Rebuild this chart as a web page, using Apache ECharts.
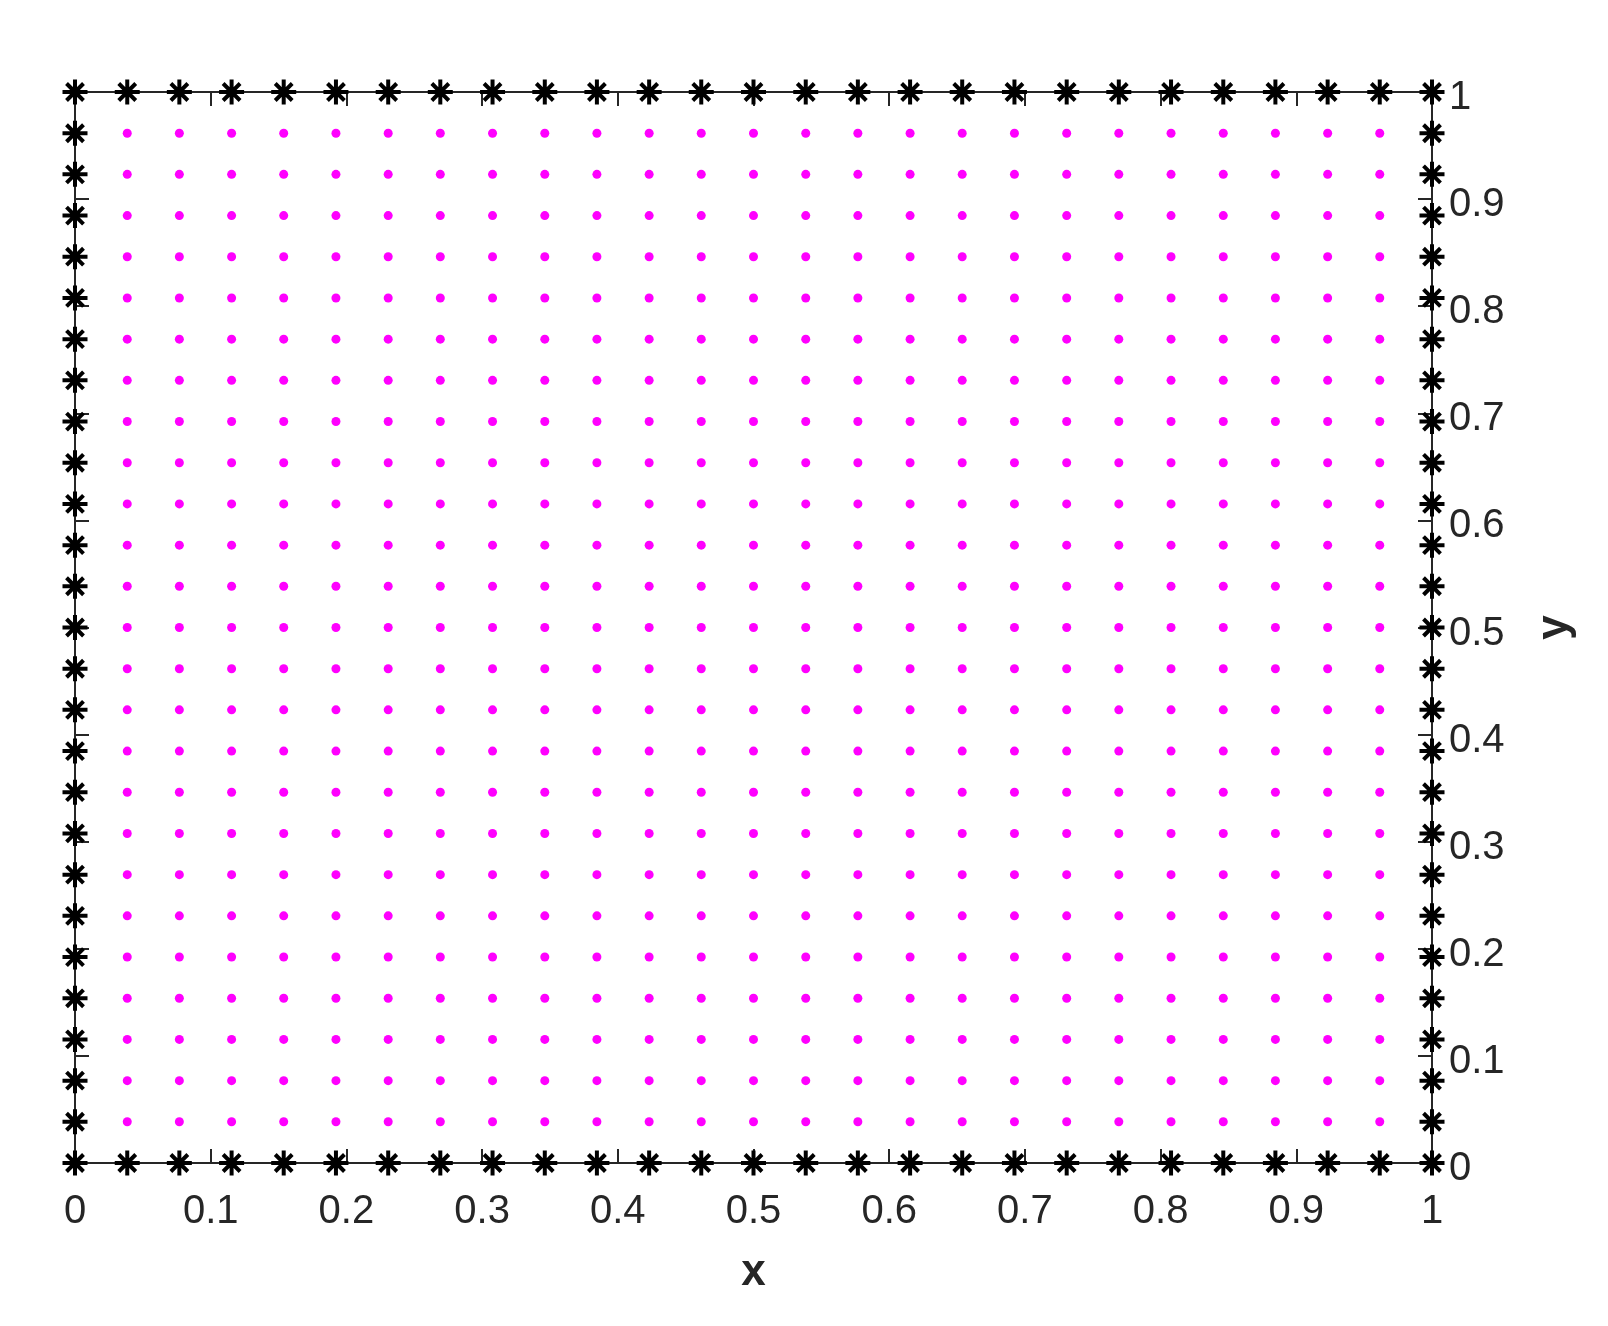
<!DOCTYPE html>
<html>
<head>
<meta charset="utf-8">
<script src="https://cdn.jsdelivr.net/npm/echarts@6/dist/echarts.min.js"></script>
<style>
html,body{margin:0;padding:0;background:#fff;}
#main{width:1608px;height:1326px;}
</style>
</head>
<body>
<div id="main"></div>
<script>
// grid node coordinates (27 nodes per direction)
const nodes = [0, 0.0385, 0.0769, 0.1154, 0.1538, 0.1923, 0.2308, 0.2692, 0.3077, 0.3462,
  0.3846, 0.4231, 0.4615, 0.5, 0.5385, 0.5769, 0.6154, 0.6538, 0.6923, 0.7308,
  0.7692, 0.8077, 0.8462, 0.8846, 0.9231, 0.9615, 1];
const xTicks = [0, 0.1, 0.2, 0.3, 0.4, 0.5, 0.6, 0.7, 0.8, 0.9, 1];
const yTicks = [0, 0.1, 0.2, 0.3, 0.4, 0.5, 0.6, 0.7, 0.8, 0.9, 1];
const xTitle = 'x';
const yTitle = 'y';

const boundary = [];
const interior = [];
const n = nodes.length;
for (let i = 0; i < n; i++) {
  for (let j = 0; j < n; j++) {
    const p = [nodes[i], nodes[j]];
    if (i === 0 || j === 0 || i === n - 1 || j === n - 1) boundary.push(p);
    else interior.push(p);
  }
}

const star = 'path://M-12.5 -2 L12.5 -2 L12.5 2 L-12.5 2 Z ' +
  'M-2 -12.5 L2 -12.5 L2 12.5 L-2 12.5 Z ' +
  'M-7.08 -9.9 L9.9 7.08 L7.08 9.9 L-9.9 -7.08 Z ' +
  'M-9.9 7.08 L7.08 -9.9 L9.9 -7.08 L-7.08 9.9 Z';

const fontFam = '"Liberation Sans", Arial, Helvetica, sans-serif';
const axisColor = '#262626';

function fmt(v) {
  return String(Math.round(v * 10) / 10);
}

const chart = echarts.init(document.getElementById('main'), null, {renderer: 'canvas'});
const common = {
  type: 'value', min: 0, max: 1, interval: 0.1,
  splitLine: {show: false},
  axisLine: {show: true, onZero: false, lineStyle: {color: axisColor, width: 2}},
  axisTick: {show: true, inside: true, length: 14, lineStyle: {color: axisColor, width: 2}}
};
chart.setOption({
  backgroundColor: '#ffffff',
  animation: false,
  grid: {left: 75, right: 176, top: 92, bottom: 163, containLabel: false},
  xAxis: [
    Object.assign({}, common, {
      position: 'bottom',
      name: xTitle, nameLocation: 'middle', nameGap: 88,
      nameTextStyle: {fontFamily: fontFam, fontSize: 44, fontWeight: 'bold', color: axisColor},
      axisLabel: {show: true, margin: 29, fontFamily: fontFam, fontSize: 40, color: axisColor,
        formatter: v => xTicks.some(t => Math.abs(t - v) < 1e-6) ? fmt(v) : ''}
    }),
    Object.assign({}, common, {position: 'top', axisLabel: {show: false}})
  ],
  yAxis: [
    Object.assign({}, common, {
      position: 'right',
      name: yTitle, nameLocation: 'middle', nameGap: 101, nameRotate: 90,
      nameTextStyle: {fontFamily: fontFam, fontSize: 44, fontWeight: 'bold', color: axisColor},
      axisLabel: {show: true, margin: 17, verticalAlign: 'top', lineHeight: 12,
        fontFamily: fontFam, fontSize: 40, color: axisColor,
        formatter: v => yTicks.some(t => Math.abs(t - v) < 1e-6) ? fmt(v) : ''}
    }),
    Object.assign({}, common, {position: 'left', axisLabel: {show: false}})
  ],
  series: [
    {
      type: 'scatter', xAxisIndex: 0, yAxisIndex: 0, clip: false,
      data: interior, symbol: 'circle', symbolSize: 9,
      itemStyle: {color: '#ff00ff', opacity: 1}, z: 3
    },
    {
      type: 'scatter', xAxisIndex: 0, yAxisIndex: 0, clip: false,
      data: boundary, symbol: star, symbolSize: 25,
      itemStyle: {color: '#000000', opacity: 1}, z: 4
    }
  ]
});
</script>
</body>
</html>
